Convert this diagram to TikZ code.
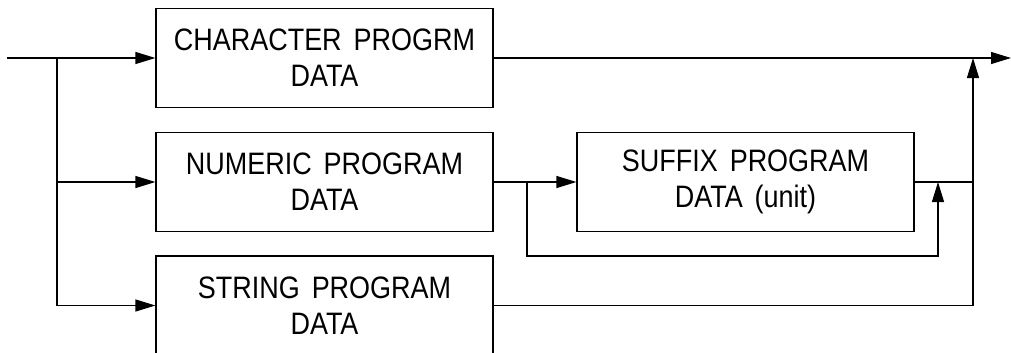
\documentclass[tikz,border=0pt]{standalone}
\usepackage{fontspec}
\newfontfamily\lblfont[FakeStretch=0.87,WordSpace=1.6]{Liberation Sans}
\usetikzlibrary{arrows.meta}
\tikzset{
  blk/.style={draw, line width=1.2pt, minimum width=337pt, minimum height=99pt,
    inner sep=0pt, align=center, font=\lblfont\fontsize{31}{36}\selectfont},
  flow/.style={draw, line width=1.2pt},
  tip/.style={-{Triangle[length=20pt,width=12pt]}}
}
\begin{document}
\begin{tikzpicture}[x=1pt,y=-1pt]
  \useasboundingbox (0,0) rectangle (1011,353);
  \clip (0,0) rectangle (1011,353);
  \fill[white] (0,0) rectangle (1011,353);

  % blocks
  \node[blk] (chr) at (324.5,58) {CHARACTER PROGRM\\DATA};
  \node[blk] (num) at (324.5,182) {NUMERIC PROGRAM\\DATA};
  \node[blk] (str) at (324.5,305.5) {STRING PROGRAM\\DATA};
  \node[blk] (suf) at (745.5,182) {SUFFIX PROGRAM\\DATA (unit)};

  % junction points
  \coordinate (in) at (7,58);
  \coordinate (fork) at (57,58);
  \coordinate (out) at (1011,58);
  \coordinate (merge) at (973,58);
  \coordinate (sfork) at (527,182);
  \coordinate (sjoin) at (938,182);
  \coordinate (numout) at (973,182);
  \coordinate (strout) at (973,305.5);
  \coordinate (byl) at (527,256);
  \coordinate (byr) at (938,256);

  % input and branches
  \draw[flow,tip] (in) -- (chr.west);
  \draw[flow,tip] (fork) |- (num.west);
  \draw[flow,tip] (fork) |- (str.west);

  % main output line
  \draw[flow,tip] (chr.east) -- (out);

  % numeric path through optional suffix
  \draw[flow,tip] (num.east) -- (suf.west);
  \draw[flow,tip] (sfork) -- (byl) -- (byr) -- (sjoin);
  \draw[flow] (suf.east) -- (numout);

  % string path joining the output
  \draw[flow,tip] (str.east) -- (strout) -- (merge);
\end{tikzpicture}
\end{document}
